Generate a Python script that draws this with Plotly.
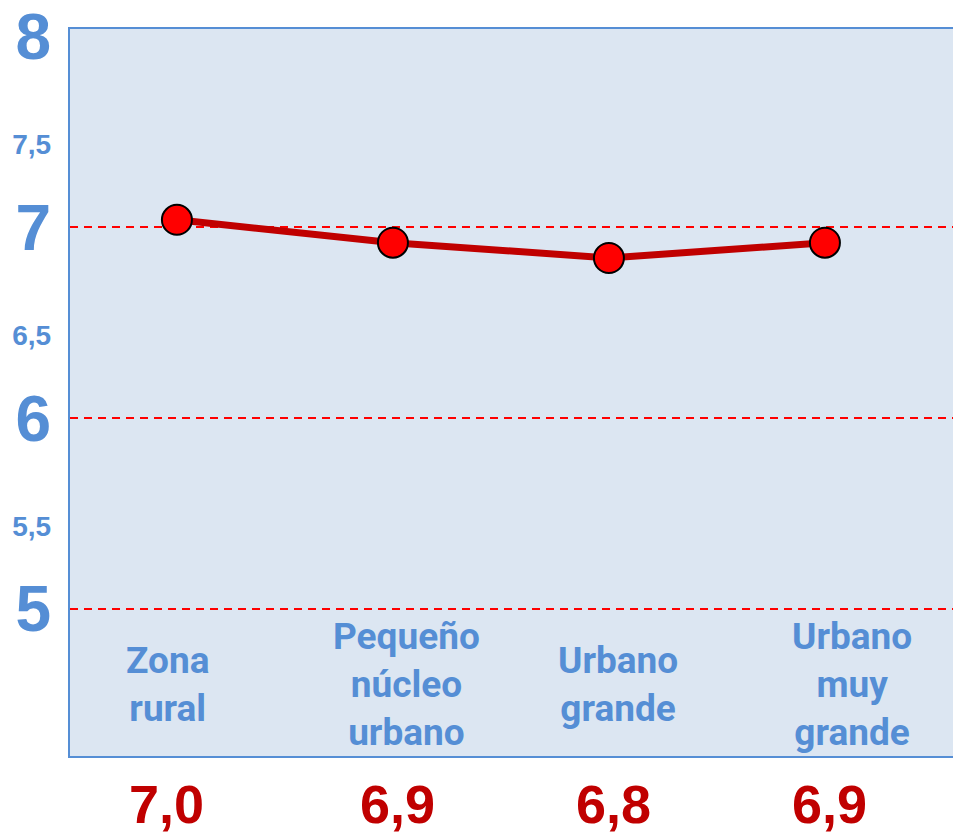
import plotly.graph_objects as go

# ---- data ----
categories = ["Zona<br>rural", "Pequeño<br>núcleo<br>urbano", "Urbano<br>grande", "Urbano<br>muy<br>grande"]
values = [7.04, 6.92, 6.84, 6.92]
value_labels = ["7,0", "6,9", "6,8", "6,9"]
y_tick_vals = [5, 5.5, 6, 6.5, 7, 7.5, 8]
y_tick_text = ["5", "5,5", "6", "6,5", "7", "7,5", "8"]
grid_vals = [5, 6, 7]

BLUE = "#558ED5"
DARK_RED = "#C00000"
x_idx = list(range(len(categories)))

fig = go.Figure()
fig.add_trace(go.Scatter(
    x=x_idx, y=values, mode="lines+markers",
    line=dict(color=DARK_RED, width=7),
    marker=dict(size=30, color="#FF0000", line=dict(color="black", width=2)),
    hoverinfo="skip", showlegend=False,
))

ticktext = []
for v, t in zip(y_tick_vals, y_tick_text):
    if float(v).is_integer():
        ticktext.append(t)
    else:
        ticktext.append(f"<span style='font-size:28px'>{t}</span>")

cat_shift = [-9, 14, 9, 27]
for i, c in enumerate(categories):
    fig.add_annotation(x=i, y=0.0977, xref="x", yref="paper", text=c, showarrow=False,
                       xshift=cat_shift[i], yanchor="middle",
                       font=dict(family="Roboto", size=37, color=BLUE, weight="bold"))

val_shift = [-10, 5, 5, 5]
for i, t in enumerate(value_labels):
    fig.add_annotation(x=i, y=0, xref="x", yref="paper", text=t, showarrow=False,
                       xshift=val_shift[i], yshift=-48, yanchor="middle",
                       font=dict(family="Liberation Sans", size=54, color=DARK_RED, weight="bold"))

fig.update_layout(
    width=953, height=827,
    margin=dict(l=62, r=0, t=21, b=79, autoexpand=False),
    paper_bgcolor="white", plot_bgcolor="#DCE6F2",
    showlegend=False,
    xaxis=dict(range=[-0.495, 3.63], showticklabels=False, showgrid=False, zeroline=False,
               showline=True, linecolor=BLUE, linewidth=2, mirror=True, ticks="",
               automargin=False),
    yaxis=dict(range=[4.23, 8.04], tickvals=y_tick_vals, ticktext=ticktext,
               tickfont=dict(family="Liberation Sans", size=64, color=BLUE, weight="bold"),
               showgrid=False, zeroline=False, ticklabeloverflow="allow", automargin=False,
               showline=True, linecolor=BLUE, linewidth=2, mirror=False,
               ticks="outside", ticklen=4, tickcolor="rgba(0,0,0,0)",
               minor=dict(tickvals=grid_vals, showgrid=True, gridcolor="#FF0000",
                          griddash="8px,6px", gridwidth=1.5, ticks="")),
)

fig.write_html("out.html")
